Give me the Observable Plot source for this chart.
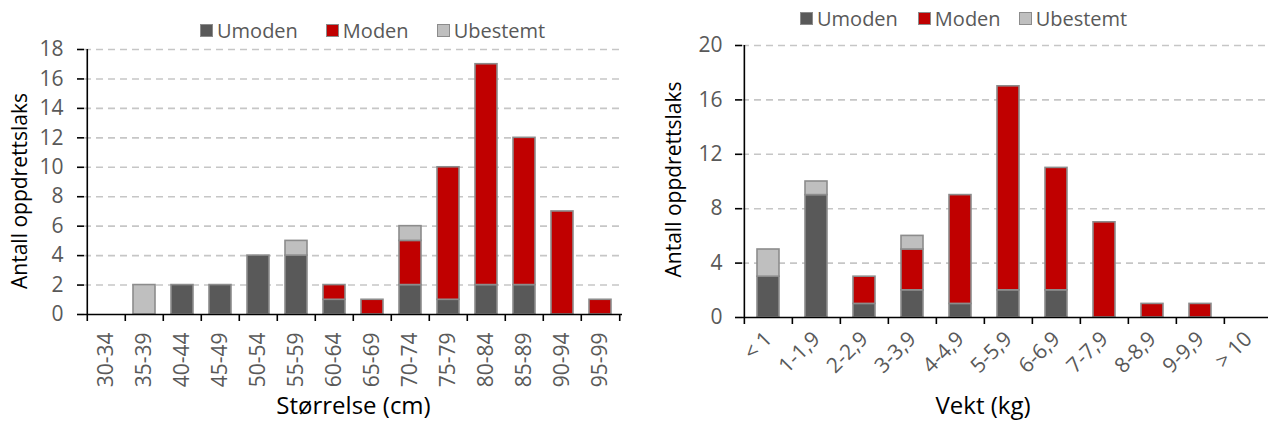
<!DOCTYPE html>
<html>
<head>
<meta charset="utf-8">
<script src="https://cdn.jsdelivr.net/npm/d3@7"></script>
<script src="https://cdn.jsdelivr.net/npm/@observablehq/plot@0.6"></script>
<style>
  html, body { margin: 0; padding: 0; background: #fff; }
  #wrap { position: relative; width: 1268px; height: 423px; overflow: hidden; font-family: "Open Sans", sans-serif; }
  .chart { position: absolute; top: 0; }
  .legend { position: absolute; display: flex; align-items: center; font-size: 20px; color: #595959; white-space: nowrap; }
  .legend .item { display: flex; align-items: center; }
  .legend .sw { width: 11px; height: 11px; border: 1.5px solid #8c8c8c; margin-right: 4px; }
</style>
</head>
<body>
<div id="wrap"></div>
<script>
// ---- data ----
const seriesNames = ["Umoden", "Moden", "Ubestemt"];
const seriesColors = ["#595959", "#C00000", "#BFBFBF"];

const sizeCats = ["30-34","35-39","40-44","45-49","50-54","55-59","60-64","65-69","70-74","75-79","80-84","85-89","90-94","95-99"];
const sizeUmoden   = [0,0,2,2,4,4,1,0,2,1,2,2,0,0];
const sizeModen    = [0,0,0,0,0,0,1,1,3,9,15,10,7,1];
const sizeUbestemt = [0,2,0,0,0,1,0,0,1,0,0,0,0,0];
const sizeTicks = [0,2,4,6,8,10,12,14,16,18];

const weightCats = ["< 1","1-1,9","2-2,9","3-3,9","4-4,9","5-5,9","6-6,9","7-7,9","8-8,9","9-9,9","> 10"];
const weightUmoden   = [3,9,1,2,1,2,2,0,0,0,0];
const weightModen    = [0,0,2,3,8,15,9,7,1,1,0];
const weightUbestemt = [2,1,0,1,0,0,0,0,0,0,0];
const weightTicks = [0,4,8,12,16,20];

const yTitle = "Antall oppdrettslaks";
const sizeTitle = "Størrelse (cm)";
const weightTitle = "Vekt (kg)";

function longData(cats, a, b, c) {
  const out = [];
  cats.forEach((cat, i) => {
    [a, b, c].forEach((arr, s) => {
      if (arr[i] > 0) out.push({cat, series: seriesNames[s], value: arr[i]});
    });
  });
  return out;
}

function makeChart(cfg) {
  const {cats, data, ticks, yMax, width, height, mL, mR, mT, mB, pad, rotate, tickPad, yTickPad, xTitle, xTitleDx, xTitleDy, yTitleDx, yTitleDy} = cfg;
  const plotW = width - mL - mR;
  const plotH = height - mT - mB;
  const step = plotW / cats.length;
  return Plot.plot({
    width, height,
    marginLeft: mL, marginRight: mR, marginTop: mT, marginBottom: mB,
    style: {fontFamily: "'Open Sans', sans-serif", fontSize: "21px", background: "white", overflow: "visible"},
    x: {domain: cats, paddingInner: pad, paddingOuter: pad / 2, label: null, axis: null},
    y: {domain: [0, yMax], label: null, axis: null},
    color: {domain: seriesNames, range: seriesColors},
    marks: [
      Plot.ruleY(ticks.filter(t => t > 0), {stroke: "#c6c6c6", strokeWidth: 1.6, strokeDasharray: "7,5"}),
      Plot.barY(data, {x: "cat", y: "value", fill: "series", stroke: "#8c8c8c", strokeWidth: 1.6}),
      Plot.ruleY([0], {stroke: "black", strokeWidth: 1.6}),
      Plot.ruleX([cats[0]], {dx: -step / 2, stroke: "black", strokeWidth: 1.6}),
      Plot.ruleX(cats, {dx: -step / 2, insetTop: plotH, insetBottom: -7, stroke: "black", strokeWidth: 1.6}),
      Plot.ruleX([cats[cats.length - 1]], {dx: step / 2, insetTop: plotH, insetBottom: -7, stroke: "black", strokeWidth: 1.6}),
      Plot.axisY({ticks, tickSize: 7, tickPadding: yTickPad, stroke: "black", fill: "#595959", strokeWidth: 1.6, label: null, fontSize: 21}),
      Plot.axisX({tickSize: 0, tickPadding: tickPad, tickRotate: rotate, fill: "#595959", label: null, fontSize: 21}),
      Plot.text([xTitle], {frameAnchor: "bottom", dx: xTitleDx, dy: xTitleDy, fontSize: 24, fill: "black", textAnchor: "middle", text: d => d}),
      Plot.text([yTitle], {frameAnchor: "left", dx: yTitleDx, dy: yTitleDy, rotate: -90, fontSize: 21, fill: "black", textAnchor: "middle", text: d => d})
    ]
  });
}

const wrap = document.getElementById("wrap");

const left = makeChart({
  cats: sizeCats, data: longData(sizeCats, sizeUmoden, sizeModen, sizeUbestemt), ticks: sizeTicks, yMax: 18,
  width: 640, height: 423, mL: 84, mR: 18, mT: 49, mB: 109, pad: 0.43, rotate: -90, tickPad: 18, yTickPad: 14,
  xTitle: sizeTitle, xTitleDx: 0, xTitleDy: 99, yTitleDx: -64, yTitleDy: 9
});
left.classList.add("chart");
left.style.left = "0px";
wrap.appendChild(left);

const right = makeChart({
  cats: weightCats, data: longData(weightCats, weightUmoden, weightModen, weightUbestemt), ticks: weightTicks, yMax: 20,
  width: 633, height: 423, mL: 102, mR: 0, mT: 45, mB: 106, pad: 0.55, rotate: -45, tickPad: 18, yTickPad: 13,
  xTitle: weightTitle, xTitleDx: -25, xTitleDy: 96, yTitleDx: -68, yTitleDy: -2
});
right.classList.add("chart");
right.style.left = "640px";
wrap.appendChild(right);

function addLegend(x, y, gaps) {
  const lg = document.createElement("div");
  lg.className = "legend";
  lg.style.left = x + "px";
  lg.style.top = y + "px";
  seriesNames.forEach((name, i) => {
    const it = document.createElement("div");
    it.className = "item";
    if (i > 0) it.style.marginLeft = gaps[i - 1] + "px";
    const sw = document.createElement("div");
    sw.className = "sw";
    sw.style.background = seriesColors[i];
    const tx = document.createElement("span");
    tx.textContent = name;
    it.appendChild(sw); it.appendChild(tx);
    lg.appendChild(it);
  });
  wrap.appendChild(lg);
}
addLegend(200, 17, [28, 28]);
addLegend(800, 5, [20, 18]);
</script>
</body>
</html>
